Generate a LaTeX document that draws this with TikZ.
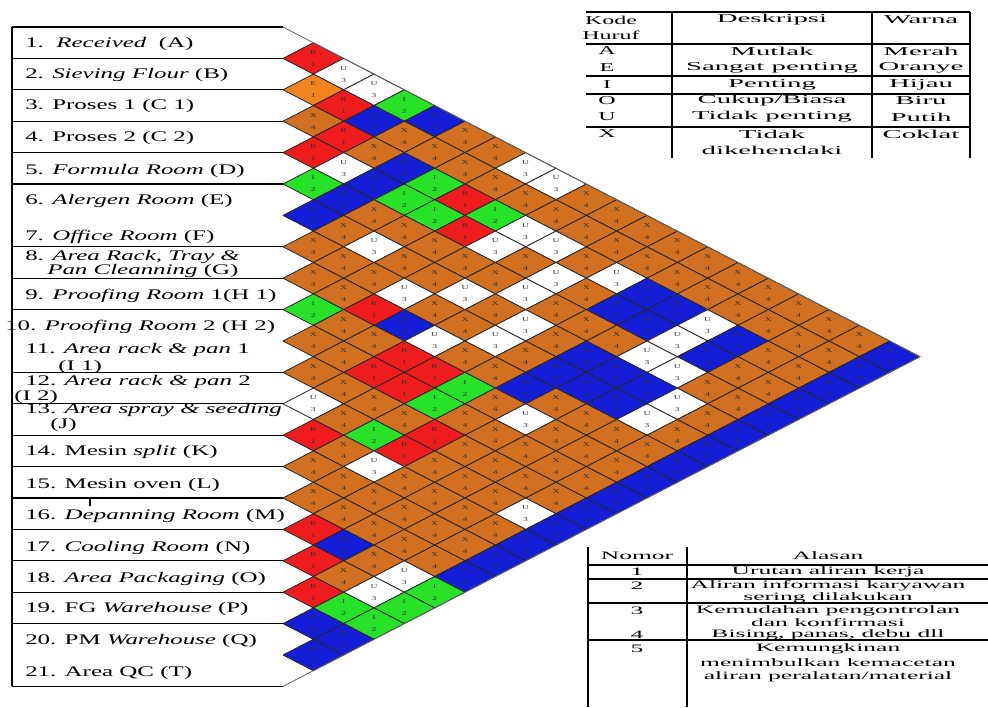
\documentclass[tikz,border=0pt]{standalone}
\usepackage{fontspec}
\setmainfont{Liberation Serif}
\usepackage{graphicx}
\newcommand{\arcLx}[1]{\scalebox{1.7}[1]{#1}}
\newcommand{\arcDy}[1]{\scalebox{2.4}[1]{#1}}
\newcommand{\arcWy}[1]{\scalebox{2.4}[1]{#1}}
\newcommand{\arcKy}[1]{\scalebox{2.0}[1]{#1}}
\newcommand{\arcBy}[1]{\scalebox{2.25}[1]{#1}}
\newcommand{\arcCz}[1]{\scalebox{1.6}[1]{#1}}
\newcommand{\lblfont}{\fontsize{11}{13}\selectfont}
\newcommand{\tblfont}{\fontsize{9}{10}\selectfont}
\newcommand{\tbbfont}{\fontsize{8.5}{10}\selectfont}
\newcommand{\codefont}{\fontsize{4.5}{5}\selectfont}
\definecolor{cR}{RGB}{238,28,28}
\definecolor{cE}{RGB}{242,132,32}
\definecolor{cX}{RGB}{208,112,32}
\definecolor{cI}{RGB}{40,226,40}
\definecolor{cO}{RGB}{20,30,215}
\definecolor{cU}{RGB}{255,255,255}
\def\arcnR{1}\def\arcnE{1}\def\arcnI{2}\def\arcnO{3}\def\arcnU{3}\def\arcnX{4}
\tikzset{
  cell/.style={draw=black!85, line width=0.6pt, line join=round},
  code/.style={inner sep=0pt, font=\codefont, text=black!80},
  lbl/.style={anchor=west, inner sep=0pt, font=\lblfont},
  tb/.style={inner sep=0pt, font=\tblfont},
  tbb/.style={inner sep=0pt, font=\tbbfont},
  rowline/.style={line width=1pt, black},
  tline/.style={line width=1pt, black},
  edge/.style={line width=0.6pt, black!60}
}
\begin{document}
\begin{tikzpicture}[x=0.75pt,y=-0.75pt]
\useasboundingbox (0,0) rectangle (988,707);
% ---------- relationship cells ----------
\foreach \i/\row in {
 1/{R,U,U,I,O,X,X,U,U,X,X,X,X,X,X,X,X,X,X,O},
 2/{E,R,O,X,X,X,X,X,X,X,X,X,X,X,X,X,X,X,O},
 3/{X,R,X,O,I,R,I,U,U,X,U,O,O,U,O,X,X,O},
 4/{R,U,O,I,I,R,U,X,U,X,O,O,U,O,X,X,O},
 5/{I,O,X,X,X,X,X,U,X,X,X,U,U,X,X,O},
 6/{O,X,U,X,X,U,X,U,X,O,O,O,U,X,O},
 7/{X,X,X,U,X,X,U,X,O,O,O,U,X,O},
 8/{X,X,R,O,U,X,X,O,X,X,X,X,O},
 9/{I,X,X,R,R,I,X,U,X,X,X,O},
 10/{X,X,R,R,I,X,X,X,X,X,O},
 11/{X,X,X,X,R,X,X,X,X,O},
 12/{U,X,I,R,X,X,X,U,O},
 13/{R,X,U,X,X,X,X,O},
 14/{X,X,X,X,X,X,O},
 15/{X,X,X,X,X,O},
 16/{R,O,X,U,I},
 17/{R,X,U,I},
 18/{R,I,I},
 19/{O,O},
 20/{O}} {
  \foreach \c [count=\k] in \row {
    \pgfmathsetmacro\cx{283+\k*30.33}
    \pgfmathtruncatemacro\j{\i+\k}
    \pgfmathsetmacro\cy{27+15.7*(\i+\j-1)}
    \draw[cell, fill=c\c] (\cx-30.33,\cy) -- (\cx,\cy-15.7) -- (\cx+30.33,\cy) -- (\cx,\cy+15.7) -- cycle;
    \node[code] (a\i-\j) at (\cx,\cy-6) {\arcCz{\c}};
    \node[code] (b\i-\j) at (\cx,\cy+6) {\arcCz{\csname arcn\c\endcsname}};
  }
}
% triangle outline
\coordinate (ttop) at (283,27);
\coordinate (ttip) at (919.9,356.7);
\coordinate (tbot) at (283,686.4);
\draw[edge] (ttop) -- (ttip) -- (tbot);
% ---------- label column ----------
\coordinate (lt) at (12,27);
\coordinate (lb) at (12,686.4);
\draw[rowline] (lt) -- (ttop);
\draw[rowline] (lb) -- (tbot);
\draw[rowline] (lt) -- (lb);
\foreach \r in {1,2,3,4,5,7,8,9,11,12,13,14,15,16,17,18,19} {
  \draw[rowline] (12,27+31.4*\r) -- (283,27+31.4*\r);
}
\draw[line width=2pt] (90,497) -- (90,506);
\node[lbl] (l1) at (25,44) {\arcLx{1.\ \ \textit{Received}\ \ (A)}};
\node[lbl] (l2) at (25,75) {\arcLx{2. \textit{Sieving Flour} (B)}};
\node[lbl] (l3) at (25,106) {\arcLx{3. Proses 1 (C 1)}};
\node[lbl] (l4) at (25,138) {\arcLx{4. Proses 2 (C 2)}};
\node[lbl] (l5) at (25,171) {\arcLx{5. \textit{Formula Room} (D)}};
\node[lbl] (l6) at (25,201) {\arcLx{6. \textit{Alergen Room} (E)}};
\node[lbl] (l7) at (25,237) {\arcLx{7. \textit{Office Room} (F)}};
\node[lbl] (l8a) at (25,257) {\arcLx{8. \textit{Area Rack, Tray \&}}};
\node[lbl] (l8b) at (47,271) {\arcLx{\textit{Pan Cleanning} (G)}};
\node[lbl] (l9) at (25,296) {\arcLx{9. \textit{Proofing Room} 1(H 1)}};
\node[lbl] (l10) at (5,327) {\arcLx{10. \textit{Proofing Room} 2 (H 2)}};
\node[lbl] (l11a) at (25,350) {\arcLx{11. \textit{Area rack \& pan} 1}};
\node[lbl] (l11b) at (58,367) {\arcLx{(I 1)}};
\node[lbl] (l12a) at (25,382) {\arcLx{12. \textit{Area rack \& pan} 2}};
\node[lbl] (l12b) at (14,397) {\arcLx{(I 2)}};
\node[lbl] (l13a) at (25,410) {\arcLx{13. \textit{Area spray \& seeding}}};
\node[lbl] (l13b) at (50,425) {\arcLx{(J)}};
\node[lbl] (l14) at (25,452) {\arcLx{14. Mesin \textit{split} (K)}};
\node[lbl] (l15) at (25,485) {\arcLx{15. Mesin oven (L)}};
\node[lbl] (l16) at (25,516) {\arcLx{16. \textit{Depanning Room} (M)}};
\node[lbl] (l17) at (25,548) {\arcLx{17. \textit{Cooling Room} (N)}};
\node[lbl] (l18) at (25,579) {\arcLx{18. \textit{Area Packaging} (O)}};
\node[lbl] (l19) at (25,609) {\arcLx{19. FG \textit{Warehouse} (P)}};
\node[lbl] (l20) at (25,641) {\arcLx{20. PM \textit{Warehouse} (Q)}};
\node[lbl] (l21) at (25,673) {\arcLx{21. Area QC (T)}};
% ---------- legend table 1 ----------
\foreach \yy in {12,44,76,94,127} {\draw[tline] (586,\yy) -- (970,\yy);}
\foreach \xx in {672,872,970} {\draw[tline] (\xx,12) -- (\xx,158);}
\node[tb] (k1) at (611,20) {\arcKy{Kode}};
\node[tb] (k2) at (611,35) {\arcKy{Huruf}};
\node[tb] (k3) at (772,20) {\arcDy{Deskripsi}};
\node[tb] (k4) at (921,20) {\arcWy{Warna}};
\node[tb] (kA) at (607,51) {\arcKy{A}};
\node[tb] (dA) at (772,51) {\arcDy{Mutlak}};
\node[tb] (wA) at (921,51) {\arcWy{Merah}};
\node[tb] (kE) at (607,68) {\arcKy{E}};
\node[tb] (dE) at (772,68) {\arcDy{Sangat penting}};
\node[tb] (wE) at (921,68) {\arcWy{Oranye}};
\node[tb] (kI) at (607,85) {\arcKy{I}};
\node[tb] (dI) at (772,85) {\arcDy{Penting}};
\node[tb] (wI) at (921,85) {\arcWy{Hijau}};
\node[tb] (kO) at (607,101) {\arcKy{O}};
\node[tb] (dO) at (772,101) {\arcDy{Cukup/Biasa}};
\node[tb] (wO) at (921,101) {\arcWy{Biru}};
\node[tb] (kU) at (607,117) {\arcKy{U}};
\node[tb] (dU) at (772,117) {\arcDy{Tidak penting}};
\node[tb] (wU) at (921,117) {\arcWy{Putih}};
\node[tb] (kX) at (607,134) {\arcKy{X}};
\node[tb] (dX) at (772,134) {\arcDy{Tidak}};
\node[tb] (dX2) at (772,150) {\arcDy{dikehendaki}};
\node[tb] (wX) at (921,134) {\arcWy{Coklat}};
% ---------- legend table 2 ----------
\foreach \yy in {565,579,603,640} {\draw[tline] (588,\yy) -- (988,\yy);}
\foreach \xx in {588,687} {\draw[tline] (\xx,547) -- (\xx,707);}
\node[tbb] (n0) at (637,556) {\arcBy{Nomor}};
\node[tbb] (m0) at (828,556) {\arcBy{Alasan}};
\node[tbb] (n1) at (637,572) {\arcBy{1}};
\node[tbb] (m1) at (828,572) {\arcBy{Urutan aliran kerja}};
\node[tbb] (n2) at (637,586) {\arcBy{2}};
\node[tbb] (m2) at (828,586) {\arcBy{Aliran informasi karyawan}};
\node[tbb] (m2b) at (828,598) {\arcBy{sering dilakukan}};
\node[tbb] (n3) at (637,611) {\arcBy{3}};
\node[tbb] (m3) at (828,611) {\arcBy{Kemudahan pengontrolan}};
\node[tbb] (m3b) at (828,623) {\arcBy{dan konfirmasi}};
\node[tbb] (n4) at (637,635) {\arcBy{4}};
\node[tbb] (m4) at (828,635) {\arcBy{Bising, panas, debu dll}};
\node[tbb] (n5) at (637,649) {\arcBy{5}};
\node[tbb] (m5) at (828,649) {\arcBy{Kemungkinan}};
\node[tbb] (m5b) at (828,663) {\arcBy{menimbulkan kemacetan}};
\node[tbb] (m5c) at (828,677) {\arcBy{aliran peralatan/material}};
\end{tikzpicture}
\end{document}
